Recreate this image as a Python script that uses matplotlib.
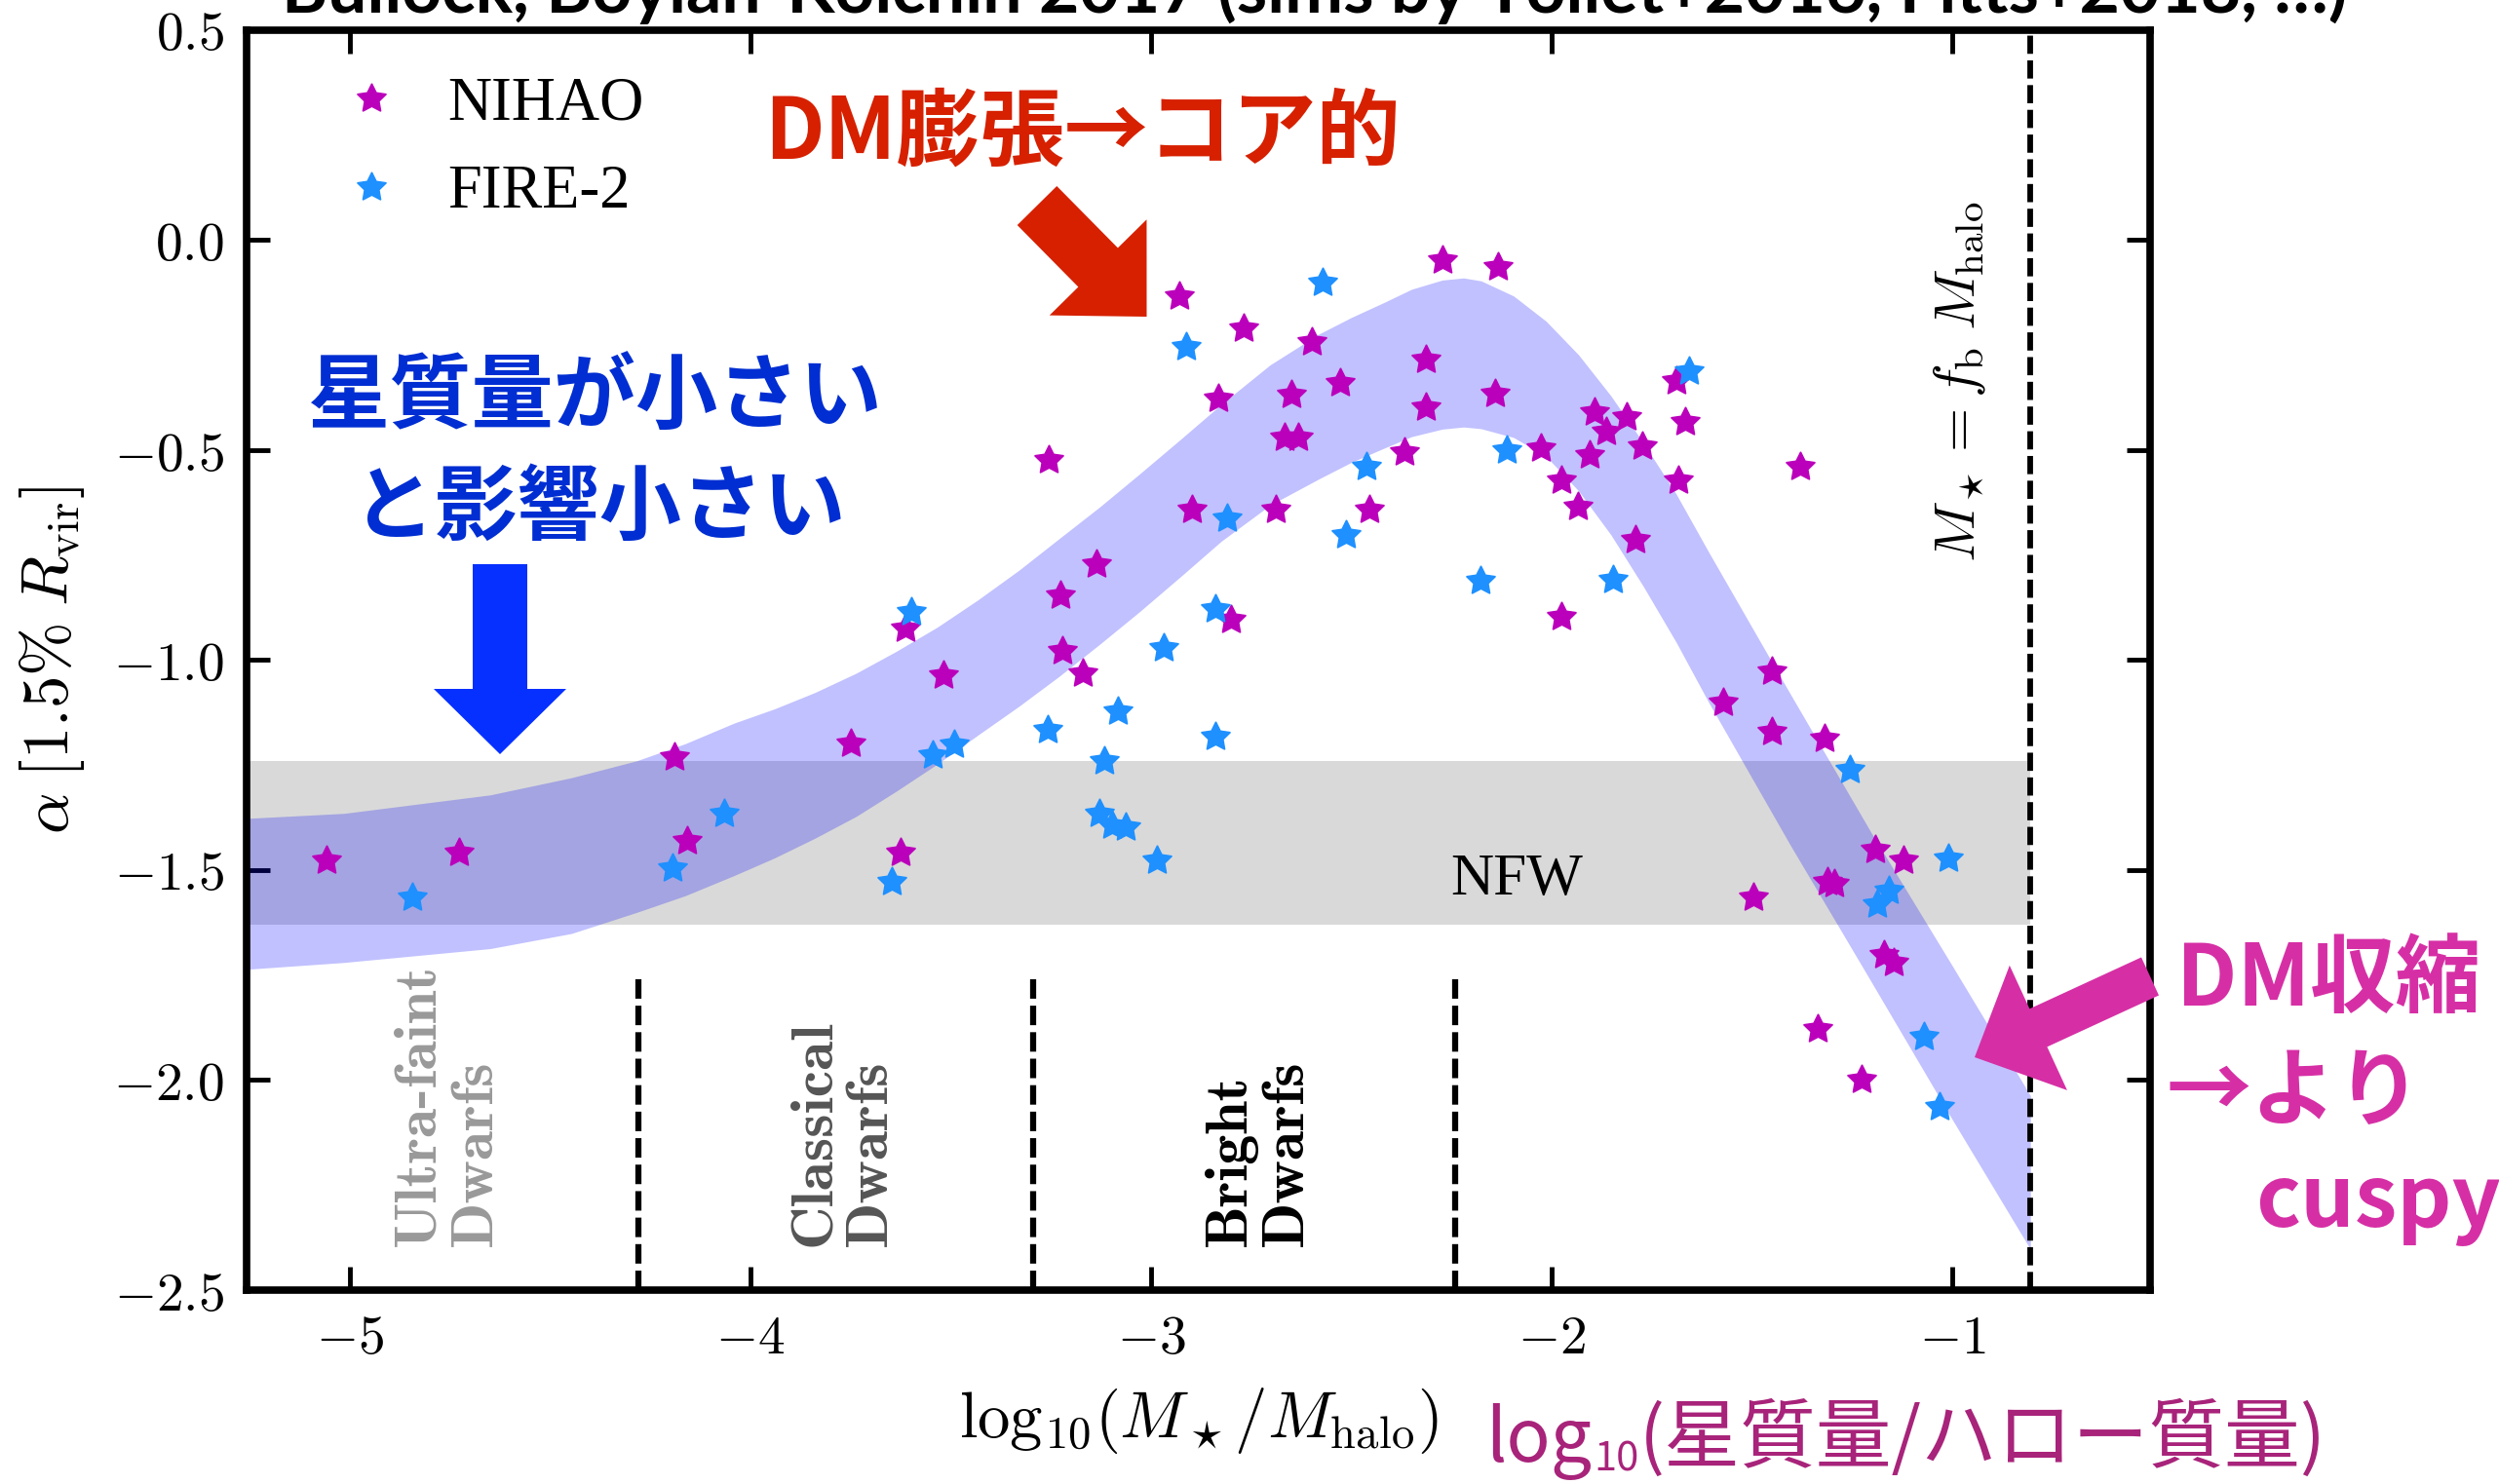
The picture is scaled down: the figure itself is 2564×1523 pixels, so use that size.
import matplotlib
matplotlib.use('Agg')
import matplotlib.pyplot as plt
from matplotlib.patches import FancyArrow
from matplotlib.transforms import IdentityTransform

plt.rcParams['mathtext.fontset'] = 'cm'

# ---- data ----
nihao_x = [-5.058, -4.727, -4.191, -4.159,
           -3.749, -3.614, -3.518, -3.626,
           -3.256, -3.137, -3.226, -3.221, -3.170,
           -2.929, -2.898, -2.832, -2.800,
           -2.770, -2.599, -2.527, -2.650, -2.667, -2.632, -2.688, -2.456,
           -2.313, -2.314, -2.367, -2.272, -2.133, -2.141,
           -2.027, -1.977, -1.975, -1.934, -1.906, -1.894, -1.864, -1.813, -1.773, -1.791,
           -1.689, -1.667, -1.684, -1.379,
           -1.572, -1.450, -1.451, -1.320, -1.497, -1.311, -1.295, -1.192, -1.123,
           -1.170, -1.146, -1.335, -1.227]
nihao_y = [-1.477, -1.460, -1.232, -1.431,
           -1.200, -0.926, -1.037, -1.460,
           -0.524, -0.772, -0.847, -0.980, -1.032,
           -0.134, -0.643, -0.378, -0.904,
           -0.210, -0.243, -0.340, -0.370, -0.471, -0.471, -0.643, -0.643,
           -0.285, -0.399, -0.505, -0.048, -0.064, -0.367,
           -0.497, -0.899, -0.573, -0.635, -0.513, -0.410, -0.456, -0.422, -0.492, -0.715,
           -0.337, -0.435, -0.573, -0.541,
           -1.102, -1.029, -1.171, -1.187, -1.566, -1.529, -1.534, -1.452, -1.477,
           -1.704, -1.721, -1.879, -2.001]

fire_x = [-4.844, -4.195, -4.066,
          -3.599, -3.545, -3.491, -3.648,
          -3.259, -3.082, -3.118, -3.129, -3.097, -3.064, -2.985, -2.969, -2.912,
          -2.810, -2.840, -2.840,
          -2.571, -2.462, -2.514, -2.111, -2.178, -1.847, -1.657,
          -1.255, -1.010, -1.158, -1.187, -1.071, -1.033]
fire_y = [-1.566, -1.496, -1.366,
          -0.886, -1.227, -1.203, -1.530,
          -1.167, -1.122, -1.241, -1.366, -1.395, -1.398, -1.477, -0.972, -0.256,
          -0.663, -0.880, -1.183,
          -0.101, -0.541, -0.703, -0.500, -0.813, -0.809, -0.313,
          -1.262, -1.473, -1.550, -1.582, -1.897, -2.066]

band_x = [-5.30, -5.015, -4.650, -4.447, -4.285, -4.163, -4.041, -3.940, -3.839, -3.736,
          -3.636, -3.533, -3.433, -3.330, -3.230, -3.128, -3.028, -2.925, -2.825, -2.703,
          -2.582, -2.500, -2.420, -2.350, -2.273, -2.220, -2.176, -2.095, -2.014, -1.933,
          -1.852, -1.771, -1.689, -1.608, -1.406, -1.203, -1.000, -0.805]
band_hi = [-1.380, -1.366, -1.322, -1.281, -1.241, -1.200, -1.151, -1.117, -1.078, -1.032,
           -0.980, -0.922, -0.858, -0.787, -0.712, -0.636, -0.557, -0.474, -0.392, -0.298,
           -0.225, -0.185, -0.150, -0.118, -0.096, -0.091, -0.098, -0.134, -0.194, -0.274,
           -0.372, -0.484, -0.606, -0.744, -1.079, -1.411, -1.729, -2.038]
band_lo = [-1.740, -1.721, -1.688, -1.652, -1.602, -1.562, -1.514, -1.472, -1.425, -1.373,
           -1.313, -1.248, -1.180, -1.111, -1.040, -0.963, -0.885, -0.801, -0.718, -0.632,
           -0.570, -0.530, -0.497, -0.469, -0.451, -0.446, -0.450, -0.471, -0.516, -0.598,
           -0.703, -0.826, -0.959, -1.102, -1.439, -1.766, -2.095, -2.404]

nfw_x = [-5.30, -0.805]
nfw_lo, nfw_hi = -1.631, -1.241
fb_line = -0.805
class_edges = [-4.28, -3.295, -2.24]
class_top = -1.75
class_names = ['Ultra-faint\nDwarfs', 'Classical\nDwarfs', 'Bright\nDwarfs']
class_pos = [-4.755, -3.769, -2.732]
class_colors = ['#999999', '#555555', 'black']
xticks = [-5, -4, -3, -2, -1]
yticks = [-2.5, -2.0, -1.5, -1.0, -0.5, 0.0, 0.5]

# ---- figure ----
W, H = 2564, 1523
fig = plt.figure(figsize=(W / 100, H / 100), dpi=100)


def fx(px):
    return px / W


def fy(py):
    return 1 - py / H


ax = fig.add_axes([fx(253.4), fy(1323.5), fx(2205.7) - fx(253.4), fy(30.5) - fy(1323.5)])
ax.set_xlim(-5.257, -0.507)
ax.set_ylim(-2.5, 0.5)

ax.fill_between(nfw_x, nfw_lo, nfw_hi, color='#d9d9d9', lw=0, zorder=1)
ax.fill_between(band_x, band_lo, band_hi, color='blue', alpha=0.245, lw=0, zorder=2)

dash = (0, (3.2, 1.15))
ax.vlines(class_edges, -2.5, class_top, colors='k', linestyles=dash, lw=4.5, zorder=3)
ax.axvline(fb_line, color='k', ls=dash, lw=4.2, zorder=3)

star = (5, 1, 0)
ax.plot(nihao_x, nihao_y, ls='none', marker=star, ms=22.5, color='#BB00BB', mec='#BB00BB',
        mew=1.0, label='NIHAO', zorder=5)
ax.plot(fire_x, fire_y, ls='none', marker=star, ms=22.5, color='#1E90FF', mec='#1E90FF',
        mew=1.0, label='FIRE-2', zorder=5)

for name, xp, col in zip(class_names, class_pos, class_colors):
    ax.text(xp, -2.397, name, rotation=90, ha='center', va='bottom', family='cmb10',
            fontsize=44.5, color=col, multialignment='left', linespacing=1.1, zorder=4)

ax.text(-2.088, -1.524, 'NFW', family='Liberation Serif', fontsize=44,
        ha='center', va='center', zorder=4)
ax.text(-0.983, -0.339, r'$M_\star = f_{\rm b}\; M_{\rm halo}$', rotation=90,
        ha='center', va='center', fontsize=42, zorder=4)

ax.legend(loc='upper left', bbox_to_anchor=(0.0495, 0.9625), frameon=False,
          prop={'family': 'Liberation Serif', 'size': 45}, handlelength=1.0,
          handletextpad=0.75, labelspacing=0.52, borderaxespad=0, borderpad=0,
          numpoints=1)

ax.set_xticks(xticks, [r'$%d$' % v for v in xticks])
ax.set_yticks(yticks, [r'$%.1f$' % v for v in yticks])
ax.tick_params(direction='in', length=17, width=3.5, top=True, right=True,
               labelsize=40, pad=17)
for s in ax.spines.values():
    s.set_linewidth(5.5)

ax.set_xlabel(r'$\mathrm{log}_{10}(M_\star/M_{\rm halo})$', fontsize=48)
ax.set_ylabel(r'$\alpha\;[1.5\%\;R_{\rm vir}]$', fontsize=48)
ax.xaxis.set_label_coords(0.5, -0.0758)
ax.yaxis.set_label_coords(-0.084, 0.5)

# ---- annotations ----
r = fig.canvas.get_renderer()


def fit(t, width):
    w = t.get_window_extent(r).width
    t.set_fontsize(t.get_fontsize() * width / w)
    return t.get_fontsize()


title = fig.text(fx(289), fy(13), 'Bullock, Boylan-Kolchin 2017 (sims by Tollet+2016, Fitts+2018, …)',
                 family='Lato', weight='bold', fontsize=50, va='baseline', ha='left')
fit(title, 2121)

jp = 'Noto Sans CJK JP'
red = '#D62000'
t = fig.text(fx(784), fy(163), 'DM膨張→コア的', family=jp, weight='bold', fontsize=58,
             color=red, va='baseline', ha='left')
fit(t, 653)

blue_t = '#002ED2'
t = fig.text(fx(611), fy(434), '星質量が小さい', family=jp, weight='bold', fontsize=60,
             color=blue_t, va='baseline', ha='center')
fs = fit(t, 590)
fig.text(fx(615), fy(547), 'と影響小さい', family=jp, weight='bold', fontsize=fs,
         color=blue_t, va='baseline', ha='center')

mag = '#D62FA5'
t = fig.text(fx(2233), fy(1032), 'DM収縮', family=jp, weight='bold', fontsize=58,
             color=mag, va='baseline', ha='left')
fs = fit(t, 312)
fig.text(fx(2223), fy(1148), '→より', family=jp, weight='bold', fontsize=fs,
         color=mag, va='baseline', ha='left')
fig.text(fx(2314), fy(1259), 'cuspy', family=jp, weight='bold', fontsize=fs,
         color=mag, va='baseline', ha='left')

dark_mag = '#A8237A'
t1 = fig.text(fx(1524), fy(1500), 'log', family=jp, fontsize=54, color=dark_mag, va='baseline')
bb = t1.get_window_extent(r)
t2 = fig.text((bb.x1 + 2) / W, fy(1509), '10', family=jp, fontsize=30, color=dark_mag,
              va='baseline')
bb = t2.get_window_extent(r)
fig.text((bb.x1 + 1) / W, fy(1500), '(星質量/ハロー質量)', family=jp, fontsize=56,
         color=dark_mag, va='baseline')


def arrow(x0, y0, x1, y1, w, hw, hl, color):
    a = FancyArrow(x0, H - y0, x1 - x0, -(y1 - y0), width=w, head_width=hw, head_length=hl,
                   length_includes_head=True, color=color, lw=0,
                   transform=IdentityTransform())
    a.set_zorder(10)
    fig.add_artist(a)


arrow(1064, 211, 1176.5, 325, 57, 140, 71, red)
arrow(513, 579, 513, 774, 56, 136, 67, '#0530FF')
arrow(2206, 1002, 2026, 1085, 43, 141, 72, mag)

fig.savefig('out.png', dpi=100)
